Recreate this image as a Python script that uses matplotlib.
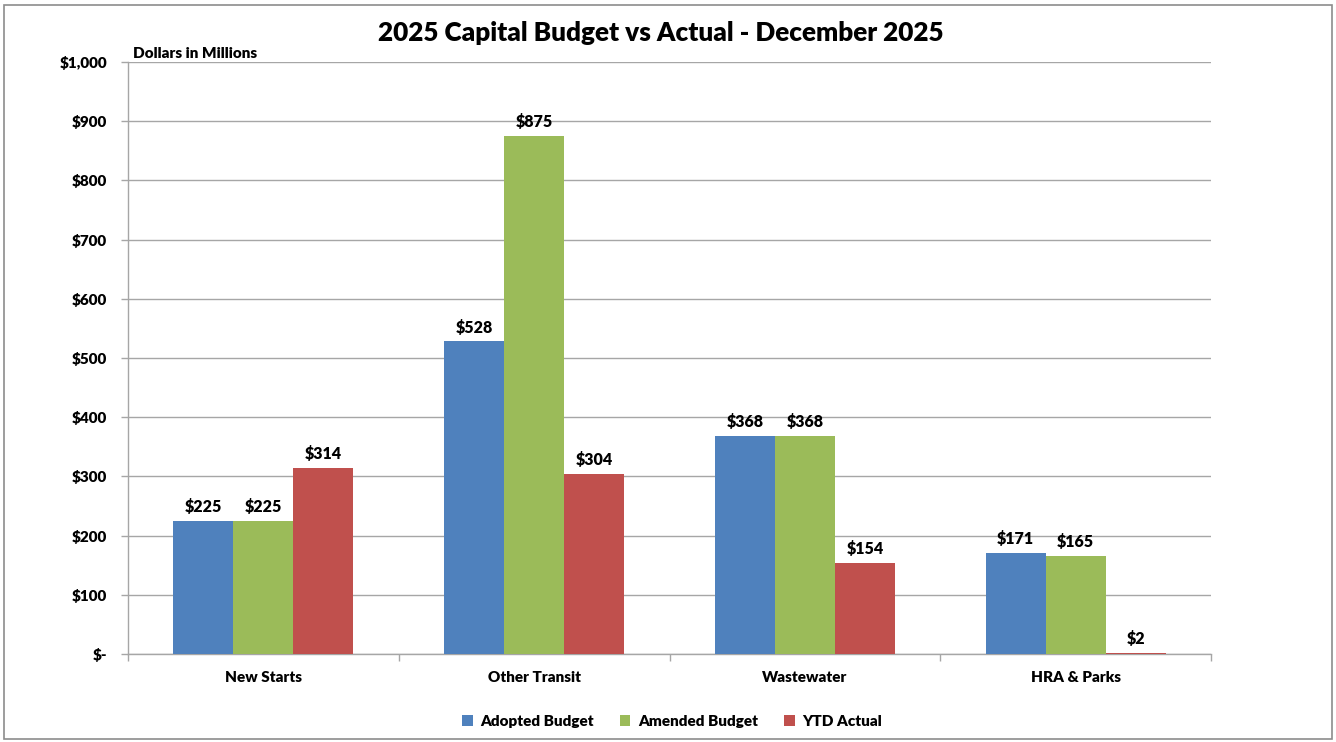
import numpy as np
import matplotlib.pyplot as plt
from matplotlib.patches import Rectangle
from matplotlib.ticker import FuncFormatter

plt.rcParams['font.family'] = ['Lato', 'DejaVu Sans']

# Budget figures in millions of dollars
categories = ['New Starts', 'Other Transit', 'Wastewater', 'HRA & Parks']
adopted = [225, 528, 368, 171]
amended = [225, 875, 368, 165]
ytd_actual = [314, 304, 154, 2]

series = [('Adopted Budget', adopted, '#4F81BD'),
          ('Amended Budget', amended, '#9BBB59'),
          ('YTD Actual', ytd_actual, '#C0504D')]

fig = plt.figure(figsize=(13.36, 7.42), dpi=100)
ax = fig.add_axes([128 / 1336, 1 - 654 / 742, (1211 - 128) / 1336, (654 - 62) / 742])

# outer chart border
fig.patches.append(Rectangle((4 / 1336, 3 / 742), 1328 / 1336, 734 / 742,
                             transform=fig.transFigure, fill=False,
                             edgecolor='#8C8C8C', linewidth=1.2))

x = np.arange(len(categories))
width = 0.2216
for i, (name, vals, color) in enumerate(series):
    bars = ax.bar(x + (i - 1) * width, vals, width, color=color, label=name, zorder=3)
    for b, v in zip(bars, vals):
        ax.text(b.get_x() + b.get_width() / 2, v + 10, f'${v}', ha='center', va='bottom',
                fontsize=11.5, fontweight='heavy')

ax.set_xlim(-0.5, len(categories) - 0.5)
ax.set_ylim(0, 1000)
ax.set_yticks(np.arange(0, 1001, 100))
ax.yaxis.set_major_formatter(FuncFormatter(lambda v, p: '$-' if v == 0 else f'${v:,.0f}'))
ax.grid(axis='y', color='#A6A6A6', linewidth=1, zorder=0)

ax.set_xticks(x)
ax.set_xticklabels(categories, fontsize=11, fontweight='heavy')
ax.set_xticks(np.arange(-0.5, len(categories)), minor=True)
ax.tick_params(axis='x', which='major', length=0, pad=12)
ax.tick_params(axis='x', which='minor', length=5, color='#A6A6A6', width=1)
ax.tick_params(axis='y', length=5, color='#A6A6A6', width=1, labelsize=11, pad=10)
for lab in ax.get_yticklabels():
    lab.set_fontweight('heavy')

for side in ['top', 'right']:
    ax.spines[side].set_visible(False)
for side in ['left', 'bottom']:
    ax.spines[side].set_color('#A6A6A6')
    ax.spines[side].set_linewidth(1)

fig.text(661 / 1336, 1 - 33 / 742, '2025 Capital Budget vs Actual - December 2025',
         ha='center', va='center', fontsize=18.8, fontweight='heavy')
fig.text(133 / 1336, 1 - 54 / 742, 'Dollars in Millions', ha='left', va='center',
         fontsize=11, fontweight='heavy')

fig.legend(loc='center', bbox_to_anchor=(672 / 1336, 1 - 721 / 742), ncol=3, frameon=False,
           prop={'weight': 'heavy', 'size': 11}, handlelength=0.7, handleheight=0.7,
           columnspacing=1.7, handletextpad=0.5)

fig.savefig('out.png', dpi=100, facecolor='white')
